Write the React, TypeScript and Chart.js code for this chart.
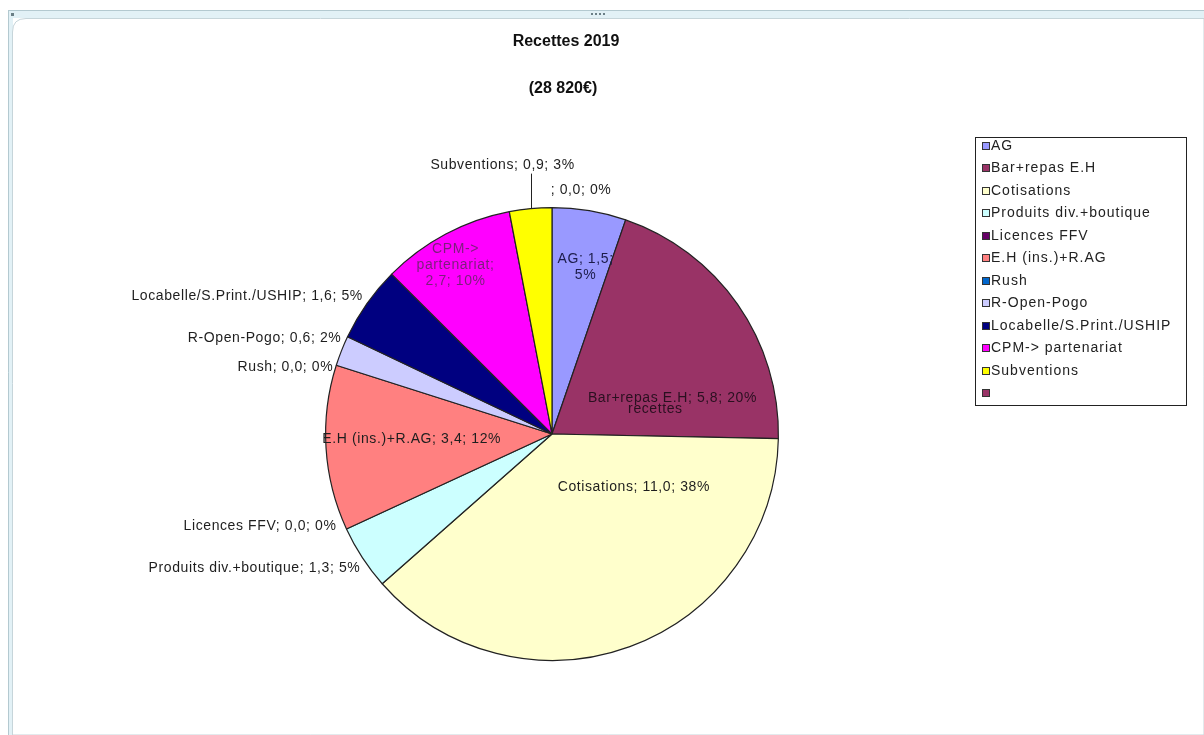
import React, { useEffect, useRef } from 'react';
import { Chart, registerables, Plugin } from 'chart.js';

Chart.register(...registerables);

// recettes 2019, in k€
const categories = [
  'AG',
  'Bar+repas E.H',
  'Cotisations',
  'Produits div.+boutique',
  'Licences FFV',
  'E.H (ins.)+R.AG',
  'Rush',
  'R-Open-Pogo',
  'Locabelle/S.Print./USHIP',
  'CPM-> partenariat',
  'Subventions',
  ''
];
const recettes = [1.52, 5.78, 11.0, 1.33, 0.0, 3.4, 0.0, 0.62, 1.56, 2.74, 0.87, 0.0];
const sliceColors = [
  '#9999FF',
  '#993366',
  '#FFFFCC',
  '#CCFFFF',
  '#660066',
  '#FF8080',
  '#0066CC',
  '#CCCCFF',
  '#000080',
  '#FF00FF',
  '#FFFF00',
  '#993366'
];
const seriesName = 'recettes';
const titleLines = ['Recettes 2019', '(28 820€)'];

const FONT = '"Liberation Sans", Arial, sans-serif';

type Place =
  | { mode: 'in'; t: number; rf: number; wrap?: number; color?: string }
  | { mode: 'out'; dx: number; dy: number; align: CanvasTextAlign; leader?: boolean };

// where each data label sits, relative to its slice
const labelPlaces: Place[] = [
  { mode: 'in', t: 0.6, rf: 0.75, wrap: 64, color: '#1c1c4a' },
  { mode: 'in', t: 0.754, rf: 0.555, color: '#2a1020' },
  { mode: 'in', t: 0.23, rf: 0.43 },
  { mode: 'out', dx: -2, dy: 10, align: 'right' },
  { mode: 'out', dx: -10, dy: -3, align: 'right' },
  { mode: 'in', t: 0.53, rf: 0.62 },
  { mode: 'out', dx: -3, dy: 2, align: 'right' },
  { mode: 'out', dx: 0, dy: -13, align: 'right' },
  { mode: 'out', dx: -4, dy: -7, align: 'right' },
  { mode: 'in', t: 0.45, rf: 0.86, wrap: 90, color: '#7b1f7b' },
  { mode: 'out', dx: -28, dy: -43, align: 'center', leader: true },
  { mode: 'out', dx: 29, dy: -17, align: 'center' }
];

const fmt = (v: number) => v.toFixed(1).replace('.', ',');

const wrapText = (ctx: CanvasRenderingContext2D, text: string, max?: number) => {
  if (!max) return [text];
  const words = text.split(' ');
  const lines: string[] = [];
  let cur = '';
  words.forEach((w) => {
    const test = cur ? cur + ' ' + w : w;
    if (cur && ctx.measureText(test).width > max) {
      lines.push(cur);
      cur = w;
    } else {
      cur = test;
    }
  });
  if (cur) lines.push(cur);
  return lines;
};

const framePlugin: Plugin<'pie'> = {
  id: 'frame',
  beforeDraw(chart) {
    const { ctx, width, height } = chart;
    ctx.save();
    ctx.fillStyle = '#ffffff';
    ctx.fillRect(0, 0, width, height);
    // window band
    ctx.fillStyle = '#e2f1f6';
    ctx.fillRect(8, 10, width - 8, 8);
    ctx.fillRect(8, 10, 5, height - 10);
    ctx.strokeStyle = '#b3c9d0';
    ctx.lineWidth = 1;
    ctx.beginPath();
    ctx.moveTo(8, 10.5);
    ctx.lineTo(width, 10.5);
    ctx.moveTo(8.5, 10);
    ctx.lineTo(8.5, height);
    ctx.stroke();
    // inner rounded panel
    ctx.fillStyle = '#ffffff';
    ctx.strokeStyle = '#c6d5da';
    ctx.beginPath();
    ctx.moveTo(12.5, height);
    ctx.lineTo(12.5, 32);
    ctx.quadraticCurveTo(12.5, 18.5, 26, 18.5);
    ctx.lineTo(width, 18.5);
    ctx.lineTo(width, height);
    ctx.closePath();
    ctx.fill();
    ctx.stroke();
    ctx.fillStyle = '#6b7f86';
    ctx.fillRect(11, 13, 3, 3);
    for (let i = 0; i < 4; i++) ctx.fillRect(591 + i * 4, 13, 2, 2);
    ctx.restore();
  }
};

const labelsPlugin: Plugin<'pie'> = {
  id: 'recetteLabels',
  afterDatasetsDraw(chart) {
    const { ctx } = chart;
    const meta = chart.getDatasetMeta(0);
    const values = chart.data.datasets[0].data as number[];
    const total = values.reduce((a, b) => a + b, 0);
    ctx.save();
    ctx.font = `14px ${FONT}`;
    (ctx as any).letterSpacing = '0.6px';
    ctx.textBaseline = 'middle';

    meta.data.forEach((el: any, i: number) => {
      const { x, y, startAngle, endAngle, outerRadius } = el.getProps(
        ['x', 'y', 'startAngle', 'endAngle', 'outerRadius'],
        true
      );
      const place = labelPlaces[i];
      const v = values[i];
      const text = `${categories[i]}; ${fmt(v)}; ${Math.round((v / total) * 100)}%`;
      if (place.mode === 'in') {
        const a = startAngle + place.t * (endAngle - startAngle);
        const r = place.rf * outerRadius;
        const cx = x + Math.cos(a) * r;
        const cy = y + Math.sin(a) * r;
        const lines = wrapText(ctx, text, place.wrap);
        ctx.fillStyle = place.color || '#1e1e1e';
        ctx.textAlign = 'center';
        lines.forEach((ln, k) => {
          ctx.fillText(ln, cx, cy + (k - (lines.length - 1) / 2) * 16);
        });
        if (i === 1) {
          // stray series-name box sitting under the Bar label
          const a2 = startAngle + 0.795 * (endAngle - startAngle);
          const r2 = 0.47 * outerRadius;
          ctx.fillText(seriesName, x + Math.cos(a2) * r2, y + Math.sin(a2) * r2);
        }
      } else {
        const mid = (startAngle + endAngle) / 2;
        const rx = x + Math.cos(mid) * outerRadius;
        const ry = y + Math.sin(mid) * outerRadius;
        if (place.leader) {
          ctx.strokeStyle = '#222';
          ctx.lineWidth = 1;
          ctx.beginPath();
          ctx.moveTo(Math.round(rx) + 0.5, ry);
          ctx.lineTo(Math.round(rx) + 0.5, ry + place.dy + 8);
          ctx.stroke();
        }
        ctx.fillStyle = '#1e1e1e';
        ctx.textAlign = place.align;
        ctx.fillText(text, rx + place.dx, ry + place.dy);
      }
    });
    ctx.restore();
  }
};

const titleLegendPlugin: Plugin<'pie'> = {
  id: 'titleLegend',
  afterDraw(chart) {
    const { ctx } = chart;
    ctx.save();
    ctx.fillStyle = '#111';
    ctx.textAlign = 'center';
    ctx.textBaseline = 'middle';
    ctx.font = `bold 16px ${FONT}`;
    ctx.fillText(titleLines[0], 566, 42);
    ctx.fillText(titleLines[1], 563, 89);

    // legend box
    const bx = 975.5;
    const by = 137.5;
    const bw = 211;
    const bh = 268;
    ctx.strokeStyle = '#222';
    ctx.lineWidth = 1;
    ctx.strokeRect(bx, by, bw, bh);
    ctx.font = `14px ${FONT}`;
    (ctx as any).letterSpacing = '1px';
    ctx.textAlign = 'left';
    const colors = chart.data.datasets[0].backgroundColor as string[];
    (chart.data.labels as string[]).forEach((lab, i) => {
      const cy = Math.round(146 + i * 22.45);
      ctx.fillStyle = colors[i];
      ctx.fillRect(982, cy - 4, 8, 8);
      ctx.strokeStyle = '#333';
      ctx.strokeRect(982.5, cy - 3.5, 7, 7);
      ctx.fillStyle = '#222';
      ctx.fillText(lab, 991, cy);
    });
    ctx.restore();
  }
};

const RecettesPie = () => {
  const canvasRef = useRef<HTMLCanvasElement | null>(null);
  const chartRef = useRef<Chart<'pie'> | null>(null);

  useEffect(() => {
    const ctx = canvasRef.current!.getContext('2d');
    if (ctx) {
      chartRef.current = new Chart(ctx, {
        type: 'pie',
        data: {
          labels: categories,
          datasets: [
            {
              label: seriesName,
              data: recettes,
              backgroundColor: sliceColors,
              borderColor: '#222',
              borderWidth: 1.2,
              hoverOffset: 0
            }
          ]
        },
        options: {
          animation: false,
          responsive: false,
          events: [],
          layout: {
            padding: { top: 207, bottom: 74, left: 325, right: 425 }
          },
          plugins: {
            legend: { display: false },
            tooltip: { enabled: false },
            title: { display: false }
          }
        },
        plugins: [framePlugin, labelsPlugin, titleLegendPlugin]
      });
    }
    return () => {
      if (chartRef.current) chartRef.current.destroy();
    };
  }, []);

  return (
    <div style={{ position: 'fixed', left: 0, top: 0, width: '1204px', height: '735px' }}>
      <canvas ref={canvasRef} width='1204' height='735' style={{ display: 'block' }}></canvas>
    </div>
  );
};

export default function App() {
  return <RecettesPie />;
}
